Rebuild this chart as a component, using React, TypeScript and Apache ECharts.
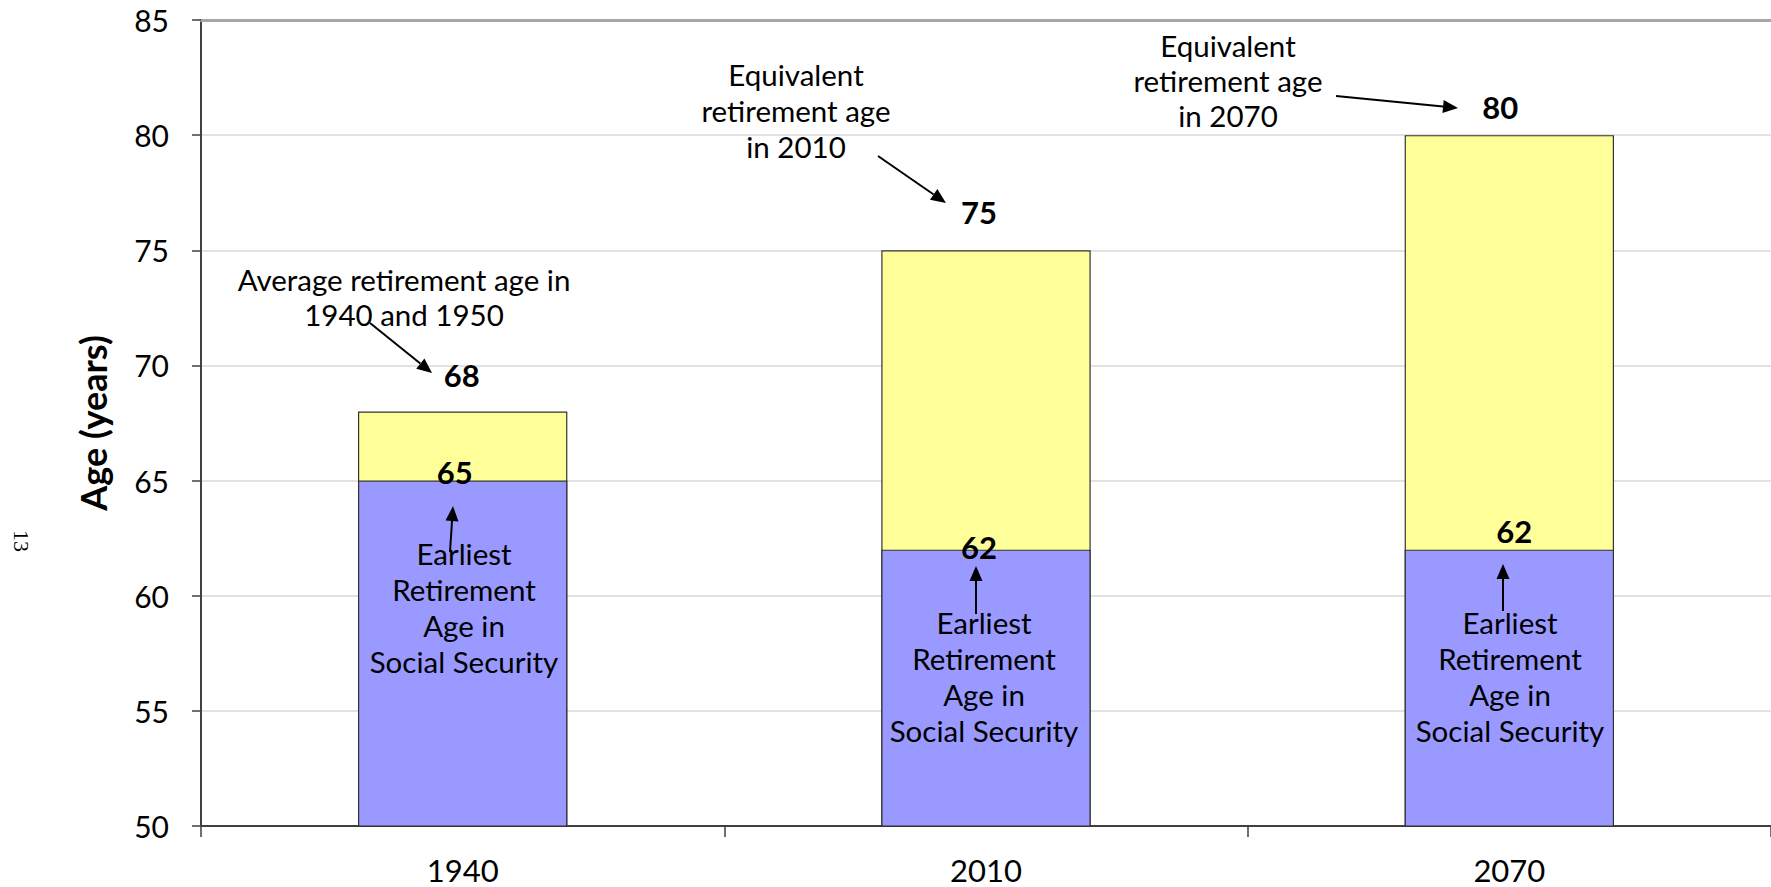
import { useEffect, useRef } from "react";
import * as echarts from "echarts";

// Chart data
const years = ["1940", "2010", "2070"];
const earliestAge = [65, 62, 62];
const equivalentAge = [68, 75, 80];
const yMin = 50;
const yMax = 85;
const yStep = 5;

const FONT = "Lato, 'Open Sans', sans-serif";

type Pt = [number, number];

// A straight arrow: a line ending in a filled triangular head at `to`.
function arrow(from: Pt, to: Pt, head = 15, half = 6.5): any[] {
  const dx = to[0] - from[0];
  const dy = to[1] - from[1];
  const len = Math.hypot(dx, dy);
  const ux = dx / len;
  const uy = dy / len;
  const bx = to[0] - ux * head;
  const by = to[1] - uy * head;
  const px = -uy;
  const py = ux;
  return [
    {
      type: "line",
      silent: true,
      z: 20,
      shape: { x1: from[0], y1: from[1], x2: bx, y2: by },
      style: { stroke: "#000", lineWidth: 2 },
    },
    {
      type: "polygon",
      silent: true,
      z: 20,
      shape: {
        points: [
          [to[0], to[1]],
          [bx + px * half, by + py * half],
          [bx - px * half, by - py * half],
        ],
      },
      style: { fill: "#000" },
    },
  ];
}

function note(text: string, x: number, top: number, lineHeight = 36): any {
  return {
    type: "text",
    silent: true,
    z: 20,
    x,
    y: top,
    style: {
      text,
      fontFamily: FONT,
      fontSize: 29.5,
      fill: "#000",
      align: "center",
      verticalAlign: "top",
      lineHeight,
    },
  };
}

const EARLIEST_TEXT = "Earliest\nRetirement\nAge in\nSocial Security";

export default function App() {
  const ref = useRef<HTMLDivElement>(null);

  useEffect(() => {
    if (!ref.current) return;
    const chart = echarts.init(ref.current, null, { renderer: "svg" });

    // label placement tweaks for each bar
    const topLift = [21, 23, 13];
    const topShift = [-1, -7, -9];
    const baseLift = [-7, -13, 3];
    const baseShift = [-8, -7, 5];

    const option: any = {
      animation: false,
      backgroundColor: "#fff",
      textStyle: { fontFamily: FONT },
      grid: { left: 201, right: -2, top: 20, bottom: 61, containLabel: false },
      xAxis: [
        {
          type: "category",
          data: years,
          position: "bottom",
          axisLine: { lineStyle: { color: "#404040", width: 2 } },
          axisTick: { show: true, length: 11, lineStyle: { color: "#404040", width: 1.5 } },
          axisLabel: { fontSize: 31, color: "#000", margin: 28, fontFamily: FONT },
          splitLine: { show: false },
        },
        {
          type: "category",
          data: years,
          position: "top",
          axisLine: { show: true, lineStyle: { color: "#a6a6a6", width: 3 } },
          axisTick: { show: false },
          axisLabel: { show: false },
          splitLine: { show: false },
        },
      ],
      yAxis: {
        type: "value",
        min: yMin,
        max: yMax,
        interval: yStep,
        name: "Age (years)",
        nameLocation: "middle",
        nameGap: 90,
        nameRotate: 90,
        nameTextStyle: { fontSize: 36, fontWeight: "bold", color: "#000", fontFamily: FONT },
        axisLine: { show: true, lineStyle: { color: "#404040", width: 2 } },
        axisTick: { show: true, length: 9, lineStyle: { color: "#404040", width: 1.5 } },
        axisLabel: { fontSize: 30, color: "#000", margin: 32, fontFamily: FONT },
        splitLine: { show: true, lineStyle: { color: "#d9d9d9", width: 1.5 } },
      },
      series: [
        {
          name: "Equivalent retirement age",
          type: "bar",
          xAxisIndex: 0,
          barWidth: "40%",
          barGap: "-100%",
          z: 2,
          itemStyle: { color: "#FFFF99", borderColor: "#333", borderWidth: 1.2 },
          data: equivalentAge.map((v, i) => ({
            value: v,
            label: { distance: topLift[i], offset: [topShift[i], 0] },
          })),
          label: {
            show: true,
            position: "top",
            fontSize: 31,
            fontWeight: "bold",
            color: "#000",
            fontFamily: FONT,
          },
        },
        {
          name: "Earliest retirement age",
          type: "bar",
          xAxisIndex: 0,
          barWidth: "40%",
          barGap: "-100%",
          z: 3,
          itemStyle: { color: "#9999FF", borderColor: "#333", borderWidth: 1.2 },
          data: earliestAge.map((v, i) => ({
            value: v,
            label: { distance: baseLift[i], offset: [baseShift[i], 0] },
          })),
          label: {
            show: true,
            position: "top",
            fontSize: 31,
            fontWeight: "bold",
            color: "#000",
            fontFamily: FONT,
          },
        },
      ],
      graphic: [
        {
          type: "text",
          silent: true,
          z: 20,
          x: 21,
          y: 541,
          rotation: -Math.PI / 2,
          style: {
            text: "13",
            fontFamily: "'Liberation Serif', 'DejaVu Serif', serif",
            fontSize: 22,
            fill: "#000",
            align: "center",
            verticalAlign: "middle",
          },
        },
        note("Average retirement age in\n1940 and 1950", 404, 262, 35),
        note("Equivalent\nretirement age\nin 2010", 796, 56),
        note("Equivalent\nretirement age\nin 2070", 1228, 28, 35),
        note(EARLIEST_TEXT, 464, 535),
        note(EARLIEST_TEXT, 984, 604),
        note(EARLIEST_TEXT, 1510, 604),
        ...arrow([370, 323], [432, 373]),
        ...arrow([878, 156], [946, 203]),
        ...arrow([1336, 96], [1458, 108]),
        ...arrow([450, 552], [453, 506]),
        ...arrow([976, 614], [976, 566]),
        ...arrow([1503, 611], [1503, 564]),
      ],
    };

    chart.setOption(option);
    return () => chart.dispose();
  }, []);

  return (
    <div
      ref={ref}
      style={{ position: "absolute", left: 0, top: 0, width: 1771, height: 887, background: "#fff" }}
    />
  );
}
